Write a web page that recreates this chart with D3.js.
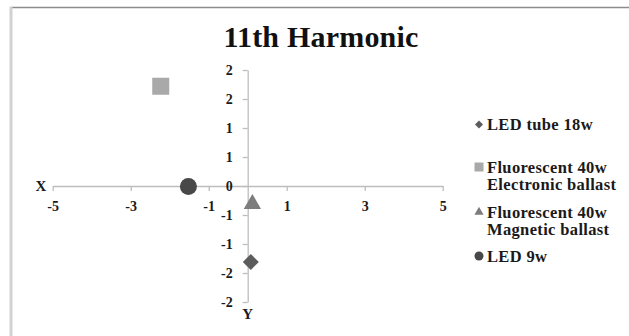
<!DOCTYPE html>
<html>
<head>
<meta charset="utf-8">
<script src="https://cdn.jsdelivr.net/npm/d3@7"></script>
<style>
  html, body { margin: 0; padding: 0; background: #fff; }
  svg { display: block; font-family: "Liberation Serif", "Times New Roman", serif; font-weight: bold; }
</style>
</head>
<body>
<svg id="chart" width="629" height="336"></svg>
<script>
// Series
const seriesNames = ['LED tube 18w', 'Fluorescent 40w|Electronic ballast', 'Fluorescent 40w|Magnetic ballast', 'LED 9w'];
const seriesX = [0.08, -2.23, 0.12, -1.52];
const seriesY = [-1.31, 1.72, -0.31, -0.01];
const seriesShapes = ['diamond', 'square', 'triangle', 'circle'];
const seriesColors = ['#5c5c5c', '#a9a9a9', '#7d7d7d', '#484848'];

// Axis ticks (Excel shows the half steps rounded to whole numbers)
const xTickValues = [-5, -3, -1, 1, 3, 5];
const xTickLabels = ['-5', '-3', '-1', '1', '3', '5'];
const yTickValues = [-2, -1.5, -1, -0.5, 0, 0.5, 1, 1.5, 2];
const yTickLabels = ['-2', '-2', '-1', '-1', '0', '1', '1', '2', '2'];

const svg = d3.select('#chart');

// chart frame (only top/left edges are inside the picture)
svg.append('line').attr('x1', 10).attr('x2', 629).attr('y1', 7.5).attr('y2', 7.5)
    .attr('stroke', '#8c8c8c').attr('stroke-width', 1.5);
svg.append('line').attr('x1', 11).attr('x2', 11).attr('y1', 7).attr('y2', 336)
    .attr('stroke', '#d2d2d2').attr('stroke-width', 3);

// Title
svg.append('text')
    .attr('x', 321).attr('y', 47)
    .attr('text-anchor', 'middle')
    .attr('font-size', 30)
    .attr('letter-spacing', 0.2)
    .attr('fill', '#111')
    .text('11th Harmonic');

const x = d3.scaleLinear().domain([-5, 5]).range([52.7, 442.7]);
const y = d3.scaleLinear().domain([-2, 2]).range([302, 70]);

// X axis crossing at y = 0
const xAxis = svg.append('g')
    .attr('transform', `translate(0,${y(0)})`)
    .call(d3.axisBottom(x).tickValues(xTickValues)
        .tickFormat((d, i) => xTickLabels[i])
        .tickSizeInner(5).tickSizeOuter(0).tickPadding(10));

// Y axis crossing at x = 0
const yAxis = svg.append('g')
    .attr('transform', `translate(${x(0)},0)`)
    .call(d3.axisLeft(y).tickValues(yTickValues)
        .tickFormat((d, i) => yTickLabels[i])
        .tickSizeInner(5).tickSizeOuter(0).tickPadding(10));

[xAxis, yAxis].forEach(ax => {
    ax.select('.domain').attr('stroke', '#bdbdbd').attr('stroke-width', 1.3);
    ax.selectAll('.tick line').attr('stroke', '#bdbdbd').attr('stroke-width', 1.3);
    ax.selectAll('.tick text')
        .attr('fill', '#1a1a1a')
        .attr('font-size', 14)
        .attr('font-family', '"Liberation Serif", serif')
        .attr('font-weight', 'bold');
});

// Axis names
svg.append('text').attr('x', 41).attr('y', y(0) + 5)
    .attr('text-anchor', 'middle').attr('font-size', 15).attr('fill', '#1a1a1a').text('X');
svg.append('text').attr('x', x(0)).attr('y', 319)
    .attr('text-anchor', 'middle').attr('font-size', 15).attr('fill', '#1a1a1a').text('Y');

// marker paths
function markerPath(shape, s) {
    if (shape === 'circle') return d3.symbol(d3.symbolCircle, Math.PI * s * s / 4)();
    if (shape === 'square') return d3.symbol(d3.symbolSquare, s * s)();
    if (shape === 'triangle') return d3.symbol(d3.symbolTriangle, s * s * 0.45)();
    // diamond: square turned 45 degrees
    const h = s / 2;
    return `M0,${-h}L${h},0L0,${h}L${-h},0Z`;
}
const plotSizes = { circle: 17, square: 17, triangle: 17, diamond: 16 };
const legendSizes = { circle: 9, square: 9, triangle: 9, diamond: 8 };

// data points
seriesNames.forEach((name, i) => {
    svg.append('path')
        .attr('d', markerPath(seriesShapes[i], plotSizes[seriesShapes[i]]))
        .attr('transform', `translate(${x(seriesX[i])},${y(seriesY[i])})`)
        .attr('fill', seriesColors[i]);
});

// Legend
const legendRows = [124.5, 167, 212, 256];
seriesNames.forEach((name, i) => {
    const ly = legendRows[i];
    svg.append('path')
        .attr('d', markerPath(seriesShapes[i], legendSizes[seriesShapes[i]]))
        .attr('transform', `translate(479,${ly})`)
        .attr('fill', seriesColors[i]);
    const t = svg.append('text')
        .attr('x', 487).attr('y', ly + 5.5)
        .attr('font-size', 16.5)
        .attr('letter-spacing', 0.35)
        .attr('fill', '#1a1a1a');
    name.split('|').forEach((part, k) => {
        t.append('tspan').attr('x', 487).attr('dy', k === 0 ? 0 : 17.5).text(part);
    });
});
</script>
</body>
</html>
